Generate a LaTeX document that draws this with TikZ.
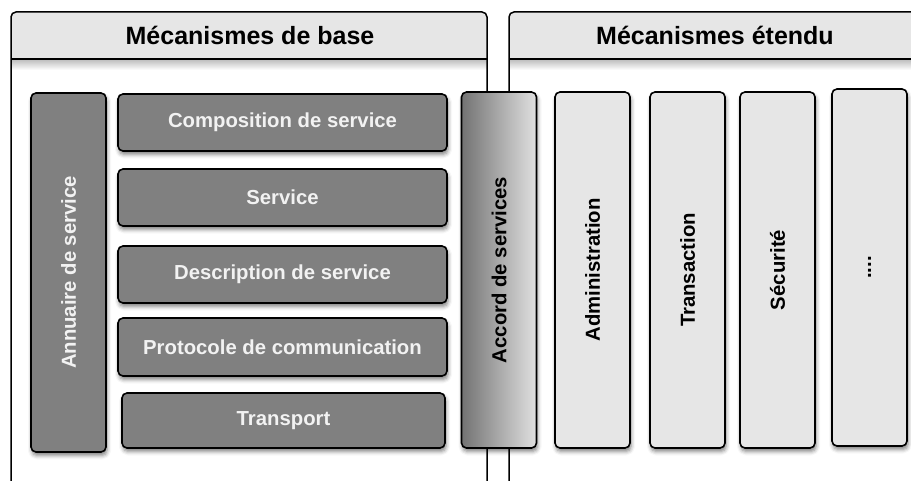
\documentclass[tikz,border=0pt]{standalone}
\usepackage{fontspec}
\setmainfont{Liberation Sans}
\usepackage{graphicx}
\usetikzlibrary{positioning,shadows.blur}
\definecolor{boxgray}{HTML}{808080}
\definecolor{paleg}{HTML}{E6E6E6}
\tikzset{%
  % Specifications for style of nodes:
         base/.style = {rectangle, rounded corners=5pt, draw=black,
                        line width=1.6pt, inner sep=0pt, outer sep=0pt,
                        text centered, font=\bfseries\fontsize{20.3}{24}\selectfont,
                        blur shadow={shadow xshift=1pt, shadow yshift=-3.5pt,
                                     shadow blur radius=4pt, shadow opacity=50}},
       column/.style = {minimum width=75pt, minimum height=356pt},
      darkbox/.style = {base, fill=boxgray, text=white!95!black},
        layer/.style = {darkbox, minimum width=329pt, minimum height=57pt},
     lightbox/.style = {base, column, fill=paleg},
    accordbox/.style = {base, column, left color=black!55, right color=black!12},
        panel/.style = {line width=1.5pt},
        title/.style = {font=\bfseries\fontsize{25}{29}\selectfont}
}
\begin{document}
\begin{tikzpicture}[x=1pt, y=-1pt]
  \useasboundingbox (0,0) rectangle (911,481);

  % the two panels
  \fill[paleg, rounded corners=5pt] (11,12) rectangle (487,59);
  \fill[paleg] (11,40) rectangle (487,59);
  \fill[paleg, rounded corners=5pt] (509,12) rectangle (921,59);
  \fill[paleg] (509,40) rectangle (921,59);
  \shade[top color=black!25, bottom color=white] (11.75,59.75) rectangle (486.25,70);
  \shade[top color=black!25, bottom color=white] (509.75,59.75) rectangle (921,70);
  \draw[panel, rounded corners=5pt] (11,481) -- (11,12) -- (487,12) -- (487,481);
  \draw[panel, rounded corners=5pt] (509,481) -- (509,12) -- (921,12);
  \draw[panel] (11,59) -- (487,59);
  \draw[panel] (509,59) -- (921,59);
  \node[title] (basetitle) at (250,35) {Mécanismes de base};
  \node[title] (exttitle) at (715,35) {Mécanismes étendu};

  % base mechanisms
  \node[darkbox, column, minimum height=359pt] (annuaire) at (68.5,272.5) {\rotatebox{90}{Annuaire de service}};
  \node[layer] (compo) at (282.5,122.5) {Composition de service};
  \node[layer, below=18pt of compo] (service) {Service};
  \node[layer, below=20pt of service] (descr) {Description de service};
  \node[layer, below=15pt of descr, minimum height=58pt] (proto) {Protocole de communication};
  \node[layer, below=17pt of proto, minimum width=323pt, minimum height=55pt, xshift=1pt] (transport) {Transport};

  % shared and extended mechanisms
  \node[accordbox] (accord) at (499,270) {\rotatebox{90}{Accord de services}};
  \node[lightbox] (admin) at (592.5,270) {\rotatebox{90}{Administration}};
  \node[lightbox, right=20pt of admin] (transaction) {\rotatebox{90}{Transaction}};
  \node[lightbox, right=15pt of transaction] (securite) {\rotatebox{90}{Sécurité}};
  \node[lightbox, right=17pt of securite, yshift=2.5pt, minimum height=357pt] (etc) {\rotatebox{90}{....}};
\end{tikzpicture}
\end{document}
